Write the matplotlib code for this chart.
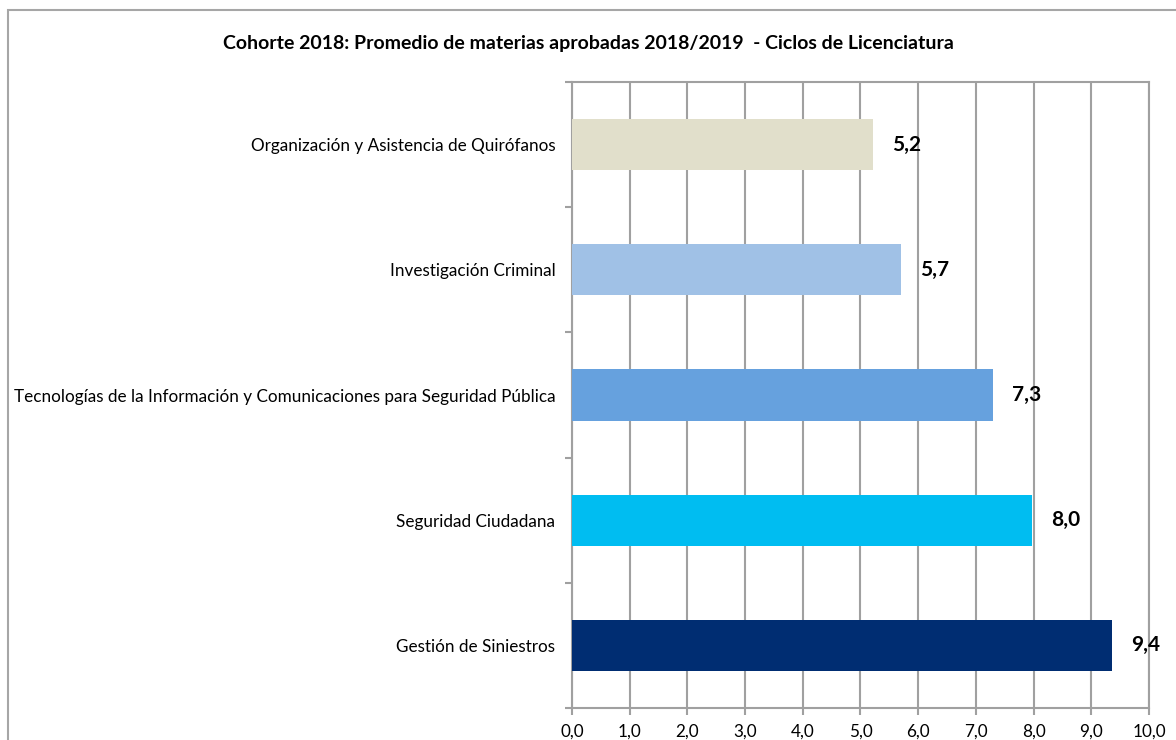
import matplotlib.pyplot as plt
from matplotlib.patches import Rectangle

plt.rcParams["font.family"] = ["Lato", "DejaVu Sans"]

categories = [
    "Gestión de Siniestros",
    "Seguridad Ciudadana",
    "Tecnologías de la Información y Comunicaciones para Seguridad Pública",
    "Investigación Criminal",
    "Organización y Asistencia de Quirófanos",
]
values = [9.36, 7.97, 7.29, 5.70, 5.22]
colors = ["#002D72", "#00BDF1", "#66A1DE", "#A0C1E6", "#E1DFCB"]
x_ticks = [0, 1, 2, 3, 4, 5, 6, 7, 8, 9, 10]
title = "Cohorte 2018: Promedio de materias aprobadas 2018/2019  - Ciclos de Licenciatura"

fig = plt.figure(figsize=(11.76, 7.4), dpi=100)
ax = fig.add_axes([0.4864, 0.0432, 0.4906, 0.846])

# outer chart frame
fig.patches.append(Rectangle((8 / 1176, -0.1), 1.2, 1 - 10 / 740 + 0.1,
                             transform=fig.transFigure, fill=False,
                             edgecolor="#A6A6A6", linewidth=1.5))

pos = list(range(len(categories)))
ax.barh(pos, values, height=0.41, color=colors, zorder=3)
for y, v in zip(pos, values):
    ax.text(v + 0.33, y, f"{v:.1f}".replace(".", ","), va="center", ha="left",
            fontsize=15, fontweight="bold", zorder=4)

ax.set_xlim(0, 10)
ax.set_ylim(-0.5, len(categories) - 0.5)
ax.set_xticks(x_ticks)
ax.set_xticklabels([f"{t:.1f}".replace(".", ",") for t in x_ticks], fontsize=12.3)
ax.set_yticks(pos)
ax.set_yticklabels(categories, fontsize=12.3)
ax.set_yticks([p - 0.5 for p in pos] + [len(categories) - 0.5], minor=True)
ax.tick_params(axis="y", which="major", length=0, pad=12)
ax.tick_params(axis="y", which="minor", length=5, color="#A0A0A0", width=1.5)
ax.tick_params(axis="x", length=5, color="#A0A0A0", width=1.5, pad=6)
ax.grid(axis="x", color="#A0A0A0", linewidth=1.5, zorder=0)
for s in ax.spines.values():
    s.set_color("#A0A0A0")
    s.set_linewidth(1.5)

fig.text(0.5, 1 - 44 / 740, title, ha="center", va="center",
         fontsize=14, fontweight="bold")

fig.savefig("out.png", dpi=100)
